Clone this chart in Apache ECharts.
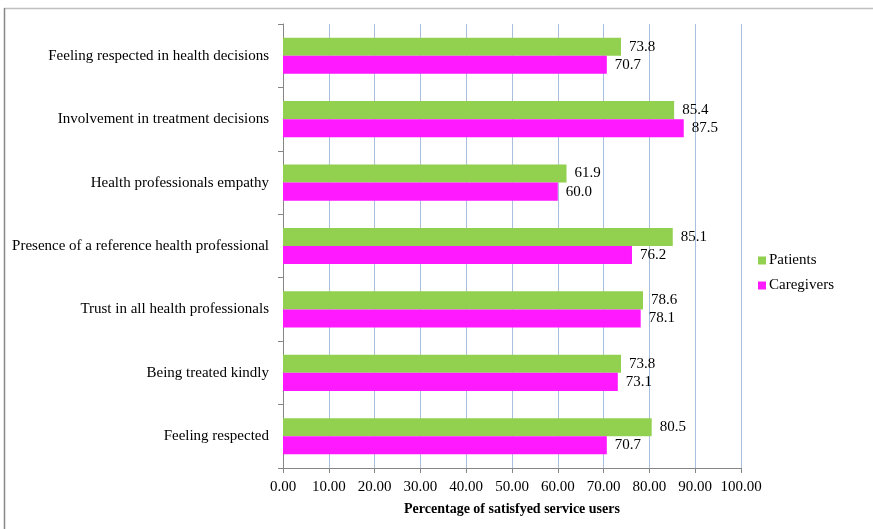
<!DOCTYPE html>
<html>
<head>
<meta charset="utf-8">
<script src="https://cdn.jsdelivr.net/npm/echarts@6/dist/echarts.min.js"></script>
<style>html,body{margin:0;padding:0;background:#fff}</style>
</head>
<body>
<div id="chart" style="width:873px;height:529px"></div>
<script>
// categories listed bottom to top (echarts category y axis starts at bottom)
const categories = [
  'Feeling respected',
  'Being treated kindly',
  'Trust in all health professionals',
  'Presence of a reference health professional',
  'Health professionals empathy',
  'Involvement in treatment decisions',
  'Feeling respected in health decisions'
];
const patients = [80.5, 73.8, 78.6, 85.1, 61.9, 85.4, 73.8];
const caregivers = [70.7, 73.1, 78.1, 76.2, 60.0, 87.5, 70.7];

const font = '"Liberation Serif", "Times New Roman", serif';
const chart = echarts.init(document.getElementById('chart'));

const labelOpt = {
  show: true,
  position: 'right',
  distance: 8,
  color: '#000',
  fontFamily: font,
  fontSize: 15,
  formatter: p => p.value.toFixed(1)
};

chart.setOption({
  animation: false,
  textStyle: { fontFamily: font },
  graphic: [
    { type: 'line', shape: { x1: 4, y1: 8.5, x2: 873, y2: 8.5 }, style: { stroke: '#c0c0c0', lineWidth: 1.5 } },
    { type: 'line', shape: { x1: 4.5, y1: 8, x2: 4.5, y2: 529 }, style: { stroke: '#888', lineWidth: 1.5 } }
  ],
  grid: { left: 283, right: 132, top: 24, bottom: 61 },
  legend: {
    orient: 'vertical',
    left: 753,
    top: 248,
    itemWidth: 8,
    itemHeight: 8,
    itemGap: 10,
    icon: 'rect',
    textStyle: { fontFamily: font, fontSize: 15, color: '#000', padding: [0, 0, 0, -2] },
    data: ['Patients', 'Caregivers']
  },
  xAxis: {
    type: 'value',
    min: 0,
    max: 100,
    interval: 10,
    name: 'Percentage of satisfyed service users',
    nameLocation: 'middle',
    nameGap: 34,
    nameTextStyle: { fontFamily: font, fontSize: 14, fontWeight: 'bold', color: '#000' },
    axisLine: { show: true, lineStyle: { color: '#868686' } },
    axisTick: { show: true, length: 5, lineStyle: { color: '#868686' } },
    axisLabel: { color: '#000', fontFamily: font, fontSize: 15, margin: 12, formatter: v => v.toFixed(2) },
    splitLine: { show: true, lineStyle: { color: '#a8c0de', width: 1 } }
  },
  yAxis: {
    type: 'category',
    data: categories,
    axisLine: { show: true, lineStyle: { color: '#868686' } },
    axisTick: { show: true, length: 5, lineStyle: { color: '#868686' } },
    axisLabel: { color: '#000', fontFamily: font, fontSize: 15, margin: 14 }
  },
  series: [
    {
      name: 'Patients',
      type: 'bar',
      data: patients,
      itemStyle: { color: '#92d050' },
      barGap: '0%',
      barCategoryGap: '43%',
      label: labelOpt
    },
    {
      name: 'Caregivers',
      type: 'bar',
      data: caregivers,
      itemStyle: { color: '#ff19ff' },
      barGap: '0%',
      barCategoryGap: '43%',
      label: labelOpt
    }
  ]
});
</script>
</body>
</html>
